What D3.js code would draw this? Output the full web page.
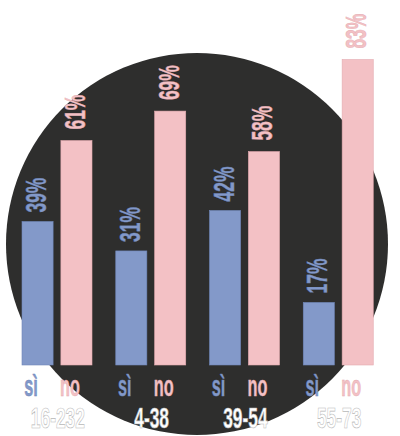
<!DOCTYPE html>
<html>
<head>
<meta charset="utf-8">
<script src="https://cdn.jsdelivr.net/npm/d3@7"></script>
<style>
  html, body { margin: 0; padding: 0; background: #ffffff; }
  svg { display: block; }
  text { font-family: "Liberation Sans Narrow", "Liberation Sans", sans-serif; font-weight: bold; }
</style>
</head>
<body>
<svg id="chart" width="400" height="436"></svg>
<script>
// ---- data ----
const groups = ["16-232", "4-38", "39-54", "55-73"];
const seriesKeys = ["sì", "no"];
const siValues = [39, 31, 42, 17];
const noValues = [61, 69, 58, 83];

// ---- styles ----
const colors = { "sì": "#8399c9", "no": "#f3c1c5" };
const strokes = { "sì": "#6f86b8", "no": "#e3aab0" };
const groupFill = ["#ffffff", "#ffffff", "#ffffff", "#ffffff"];

const svg = d3.select("#chart");

// dark circle background
svg.append("circle")
  .attr("cx", 197).attr("cy", 244).attr("r", 191)
  .attr("fill", "#2e2e2d");

const x0 = d3.scaleBand().domain(groups).range([22, 397]).paddingInner(0);
const x1 = d3.scaleBand().domain(seriesKeys).range([0, 70]).paddingInner(0.2);
const y = d3.scaleLinear().domain([0, 100]).range([365, -3]);

const rows = groups.map((g, i) => ({ group: g, "sì": siValues[i], "no": noValues[i] }));

const g = svg.append("g");
const grp = g.selectAll("g.grp").data(rows).join("g")
  .attr("class", "grp")
  .attr("transform", d => `translate(${x0(d.group)},0)`);

// bars
grp.selectAll("rect").data(d => seriesKeys.map(k => ({ key: k, value: d[k] }))).join("rect")
  .attr("x", d => x1(d.key))
  .attr("width", x1.bandwidth())
  .attr("y", d => y(d.value))
  .attr("height", d => y(0) - y(d.value))
  .attr("fill", d => colors[d.key])
  .attr("stroke", d => strokes[d.key])
  .attr("stroke-width", 0.6);

// value labels (rotated)
grp.selectAll("text.val").data(d => seriesKeys.map(k => ({ key: k, value: d[k] }))).join("text")
  .attr("class", "val")
  .attr("transform", d => `translate(${x1(d.key) + x1.bandwidth() / 2 + 8.5},${y(d.value) - (d.key === "sì" ? 9 : 11)}) rotate(-90) scale(0.6,1)`)
  .attr("text-anchor", "start")
  .attr("font-size", 29)
  .attr("fill", d => colors[d.key])
  .attr("stroke", d => strokes[d.key])
  .attr("stroke-width", 0.5)
  .text(d => d.value + "%");

// series labels under bars
grp.selectAll("text.key").data(seriesKeys).join("text")
  .attr("class", "key")
  .attr("transform", k => `translate(${x1(k) + x1.bandwidth() / 2 - 6.5},396) scale(0.56,1)`)
  .attr("text-anchor", "middle")
  .attr("font-size", 29)
  .attr("fill", k => colors[k])
  .attr("stroke", k => strokes[k])
  .attr("stroke-width", 0.5)
  .text(k => k);

// group labels
g.selectAll("text.grpLabel").data(groups).join("text")
  .attr("class", "grpLabel")
  .attr("transform", (d, i) => `translate(${x0(d) + x0.bandwidth() / 2 - 11},428) scale(0.6,1)`)
  .attr("text-anchor", "middle")
  .attr("font-size", 29)
  .attr("fill", (d, i) => groupFill[i])
  .attr("stroke", "#b8b8b8")
  .attr("stroke-width", 0.7)
  .text(d => d);
</script>
</body>
</html>
